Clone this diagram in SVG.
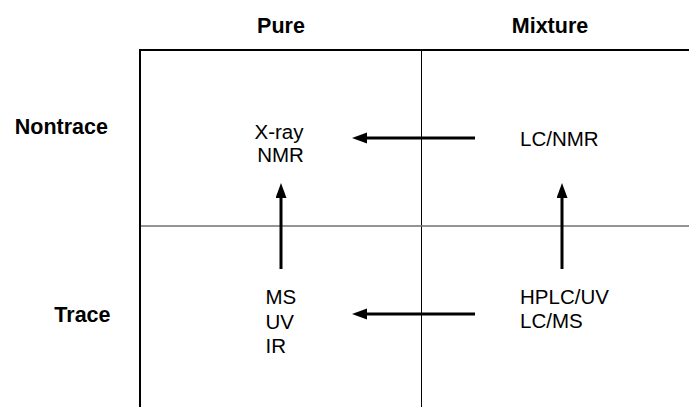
<svg xmlns="http://www.w3.org/2000/svg" width="689" height="407" viewBox="0 0 689 407">
<style>
.hdr{font-family:"Liberation Sans",Arial,sans-serif;font-weight:bold;font-size:21.5px;fill:#000}
.lbl{font-family:"Liberation Sans",Arial,sans-serif;font-size:20.5px;fill:#000}
.arrow{stroke:#000;stroke-width:3;fill:none}
</style>
<defs>
<marker id="ah" markerUnits="userSpaceOnUse" markerWidth="16" markerHeight="12" refX="3" refY="5.5" orient="auto">
<path d="M0,0 L15,5.5 L0,11 z" fill="#000"/>
</marker>
</defs>
<rect width="689" height="407" fill="#fff"/>
<g id="grid">
<line x1="140" y1="50" x2="689" y2="50" stroke="#000" stroke-width="2"/>
<line x1="140" y1="49" x2="140" y2="407" stroke="#000" stroke-width="2"/>
<line x1="421.5" y1="50" x2="421.5" y2="407" stroke="#000" stroke-width="1"/>
<line x1="141" y1="226" x2="689" y2="226" stroke="#707070" stroke-width="1.5"/>
</g>
<g id="headers">
<text class="hdr" x="281" y="33" text-anchor="middle">Pure</text>
<text class="hdr" x="550" y="33" text-anchor="middle">Mixture</text>
<text class="hdr" x="108" y="134" text-anchor="end">Nontrace</text>
<text class="hdr" x="110.5" y="322" text-anchor="end">Trace</text>
</g>
<g id="pure-nontrace">
<text class="lbl" x="279" y="139" text-anchor="middle">X-ray</text>
<text class="lbl" x="280.5" y="162" text-anchor="middle">NMR</text>
</g>
<g id="mixture-nontrace">
<text class="lbl" x="520" y="146">LC/NMR</text>
</g>
<g id="pure-trace">
<text class="lbl" x="265.5" y="304">MS</text>
<text class="lbl" x="265.5" y="329">UV</text>
<text class="lbl" x="265.5" y="353">IR</text>
</g>
<g id="mixture-trace">
<text class="lbl" x="520" y="304">HPLC/UV</text>
<text class="lbl" x="520" y="328">LC/MS</text>
</g>
<g id="connectors">
<line class="arrow" x1="475" y1="138" x2="364" y2="138" marker-end="url(#ah)"/>
<line class="arrow" x1="475" y1="314" x2="364" y2="314" marker-end="url(#ah)"/>
<line class="arrow" x1="281" y1="269" x2="281" y2="195" marker-end="url(#ah)"/>
<line class="arrow" x1="562" y1="269" x2="562" y2="195" marker-end="url(#ah)"/>
</g>
</svg>
